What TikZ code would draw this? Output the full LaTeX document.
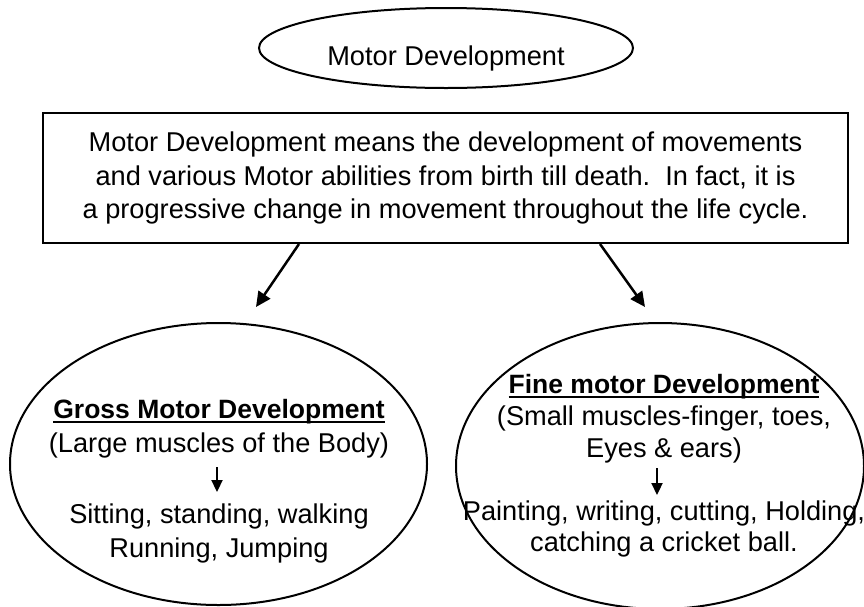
\documentclass[tikz,border=0pt]{standalone}
\usepackage{fontspec}
\setmainfont{Liberation Sans}
\usetikzlibrary{positioning}
\usetikzlibrary{shapes.geometric}
\usetikzlibrary{arrows.meta}

\tikzset{
  oval/.style={draw, ellipse, line width=2pt, inner sep=0pt},
  txt/.style={anchor=base, inner sep=0pt, font=\fontsize{27.2}{33.5}\selectfont},
  arr/.style={line width=2.5pt, -{Triangle[length=15pt,width=14pt]}},
  down/.style={line width=2.2pt, -{Triangle[length=12pt,width=11pt]}},
}
\newcommand{\ulbf}[1]{\setbox0\hbox{\bfseries\fontsize{26.5}{32}\selectfont #1}%
  \rlap{\rule[-4.8pt]{\wd0}{1.6pt}}\box0}

\begin{document}
\begin{tikzpicture}[x=1pt,y=-1pt]
\useasboundingbox (0,0) rectangle (864,606);
\node[oval, minimum width=374pt, minimum height=80pt] at (446,48) (md) {};
\node[txt] at (446,65) (mdtext) {Motor Development};
\node[draw, line width=2pt, minimum width=805pt, minimum height=130pt,
  align=center, font=\fontsize{27.2}{33.5}\selectfont] at (445.5,178) (def)
  {Motor Development means the development of movements\\
   and various Motor abilities from birth till death.\ \ In fact, it is\\
   a progressive change in movement throughout the life cycle.};
\coordinate (gtip) at (256,307);
\coordinate (ftip) at (645,307);
\draw[arr] ([xshift=-146.5pt]def.south) -- (gtip);
\draw[arr] ([xshift=154.5pt]def.south) -- (ftip);
% gross motor
\node[oval, minimum width=417pt, minimum height=282pt] at (218.5,464) (gross) {};
\node[txt] at (219,418) (g1) {\ulbf{Gross Motor Development}};
\node[txt] at (219,452) (g2) {(Large muscles of the Body)};
\node[txt] at (219,523) (g3) {Sitting, standing, walking};
\node[txt] at (219,557) (g4) {Running, Jumping};
\draw[down] ([xshift=-2pt,yshift=-15pt]g2.base) -- ([xshift=-2pt,yshift=31pt]g3.base);
% fine motor
\node[oval, minimum width=408pt, minimum height=286pt] at (660,466) (fine) {};
\node[txt] at (664,393) (f1) {\ulbf{Fine motor Development}};
\node[txt] at (664,425) (f2) {(Small muscles-finger, toes,};
\node[txt] at (664,457) (f3) {Eyes \& ears)};
\node[txt] at (664,520) (f4) {Painting, writing, cutting, Holding,};
\node[txt] at (664,551) (f5) {catching a cricket ball.};
\draw[down] ([xshift=-7pt,yshift=-11pt]f3.base) -- ([xshift=-7pt,yshift=25pt]f4.base);
\end{tikzpicture}
\end{document}
